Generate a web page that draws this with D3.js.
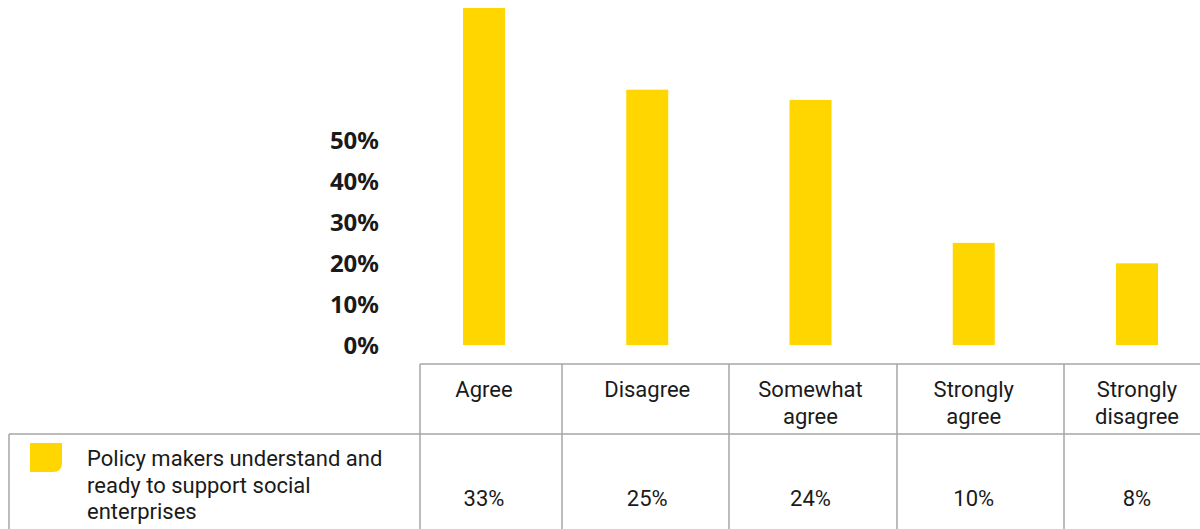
<!DOCTYPE html>
<html>
<head>
<meta charset="utf-8">
<script src="https://cdn.jsdelivr.net/npm/d3@7"></script>
<style>
  html, body { margin: 0; padding: 0; background: #fff; }
  svg { display: block; font-family: Roboto, "Noto Sans", sans-serif; }
</style>
</head>
<body>
<svg id="chart" width="1200" height="529"></svg>
<script>
// Survey responses
const categories = ["Agree", "Disagree", "Somewhat agree", "Strongly agree", "Strongly disagree"];
const headerLines = [["Agree"], ["Disagree"], ["Somewhat", "agree"], ["Strongly", "agree"], ["Strongly", "disagree"]];
const values = [33, 25, 24, 10, 8];
const seriesName = ["Policy makers understand and", "ready to support social", "enterprises"];
const axisTicks = [0, 0.1, 0.2, 0.3, 0.4, 0.5];

const yellow = "#ffd600";
const gridColor = "#a6a6a6";
const textColor = "#1a1a1a";

const svg = d3.select("#chart");

// Bar scales
const x = d3.scalePoint().domain(categories).range([484, 1137]);
const y = d3.scaleLinear().domain([0, 33]).range([345, 8]);
const barWidth = 42;

// Value axis labels
const yAxisScale = d3.scaleLinear().domain([0, 0.5]).range([345, 140]);
const yAxis = d3.axisLeft(yAxisScale)
  .tickValues(axisTicks)
  .tickFormat(d3.format(".0%"))
  .tickSize(0)
  .tickPadding(0);

const axisG = svg.append("g")
  .attr("transform", "translate(379,0)")
  .call(yAxis);
axisG.select(".domain").remove();
axisG.selectAll("text")
  .attr("font-family", "'Noto Sans', sans-serif")
  .attr("font-size", 24)
  .attr("font-weight", "bold")
  .attr("fill", textColor)
  .attr("dy", "0.35em");

// Bars
svg.append("g").selectAll("rect")
  .data(categories)
  .join("rect")
  .attr("x", (d) => x(d) - barWidth / 2)
  .attr("width", barWidth)
  .attr("y", (d, i) => y(values[i]))
  .attr("height", (d, i) => y(0) - y(values[i]))
  .attr("fill", yellow);

// Data table below the bars
const colEdges = [420, 562, 729, 897, 1064];
const table = svg.append("g")
  .attr("stroke", gridColor)
  .attr("stroke-width", 1.5)
  .attr("fill", "none");

table.append("line").attr("x1", 420).attr("x2", 1200).attr("y1", 364).attr("y2", 364);
table.append("line").attr("x1", 9).attr("x2", 1200).attr("y1", 434).attr("y2", 434);
table.append("line").attr("x1", 9).attr("x2", 9).attr("y1", 434).attr("y2", 529);
table.selectAll("line.col")
  .data(colEdges)
  .join("line")
  .attr("class", "col")
  .attr("x1", (d) => d).attr("x2", (d) => d)
  .attr("y1", 364).attr("y2", 529);

// Column headers, one text per line
const headerG = svg.append("g")
  .attr("font-size", 22)
  .attr("fill", textColor)
  .attr("text-anchor", "middle");
categories.forEach((c, i) => {
  headerG.selectAll(null)
    .data(headerLines[i])
    .join("text")
    .attr("x", x(c))
    .attr("y", (t, j) => 397 + j * 26.5)
    .text((t) => t);
});

// Value row
svg.append("g")
  .attr("font-size", 22)
  .attr("fill", textColor)
  .attr("text-anchor", "middle")
  .selectAll("text")
  .data(categories)
  .join("text")
  .attr("x", (d) => x(d))
  .attr("y", 506)
  .text((d, i) => values[i] + "%");

// Legend swatch with rounded lower-right corner
const sx = 30, sy = 443, sw = 32, sh = 29, r = 9;
svg.append("path")
  .attr("d", `M${sx},${sy} H${sx + sw} V${sy + sh - r} Q${sx + sw},${sy + sh} ${sx + sw - r},${sy + sh} H${sx} Z`)
  .attr("fill", yellow);

svg.append("g")
  .attr("font-size", 22)
  .attr("fill", textColor)
  .selectAll("text")
  .data(seriesName)
  .join("text")
  .attr("x", 87)
  .attr("y", (t, j) => 466 + j * 26.7)
  .text((t) => t);
</script>
</body>
</html>
